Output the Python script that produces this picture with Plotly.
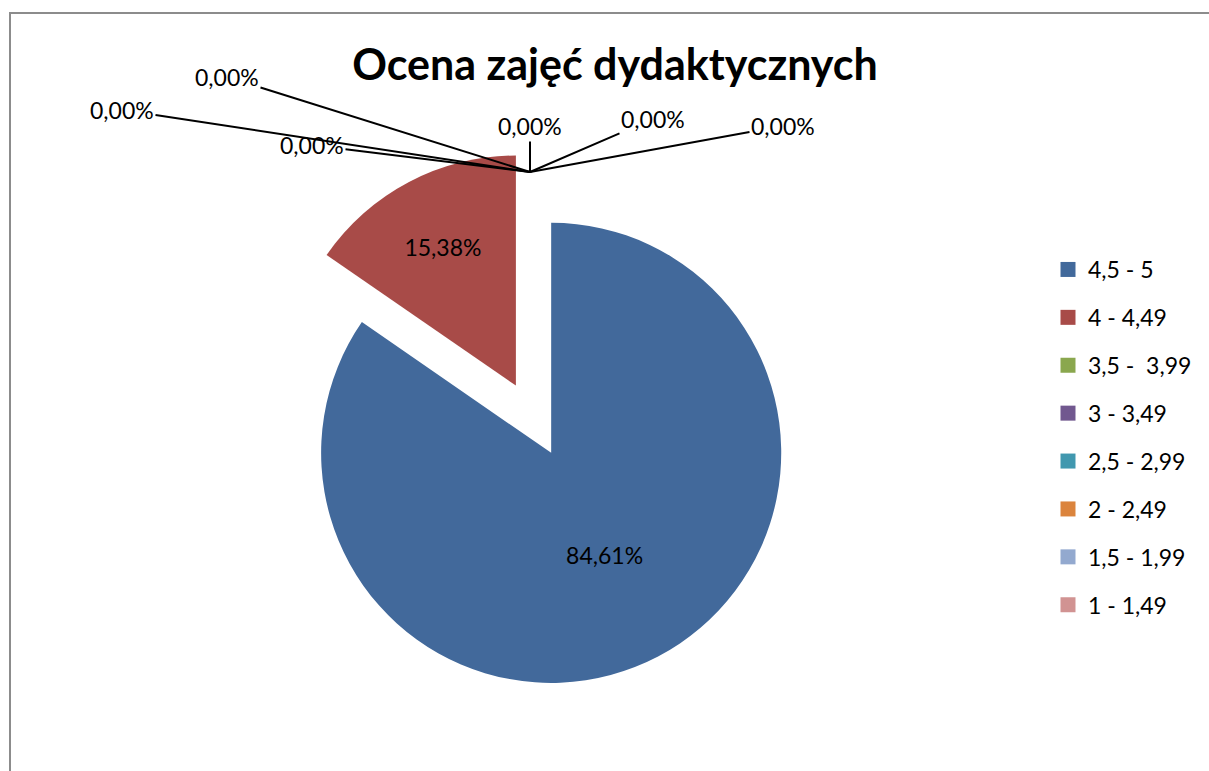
import plotly.graph_objects as go

# ---- data ----
categories = ["4,5 - 5", "4 - 4,49", "3,5 -  3,99", "3 - 3,49",
              "2,5 - 2,99", "2 - 2,49", "1,5 - 1,99", "1 - 1,49"]
values = [84.61, 15.38, 0.0, 0.0, 0.0, 0.0, 0.0, 0.0]
colors = ["#42699B", "#A84B48", "#8AA74E", "#71588F",
          "#4198AF", "#DB843D", "#93A9CF", "#D19392"]
pulls = [0.1, 0.23, 0.18, 0.18, 0.18, 0.18, 0.18, 0.18]
title_text = "Ocena zajęć dydaktycznych"


def fmt(v):
    return f"{v:.2f}%".replace(".", ",")


FONT = "Lato"
W, H = 1209, 771

slice_text = [fmt(v) if v > 0 else "" for v in values]

fig = go.Figure()
fig.add_trace(go.Pie(
    labels=categories, values=values, text=slice_text,
    textinfo="text", textposition="inside",
    insidetextorientation="horizontal",
    sort=False, direction="clockwise", rotation=0,
    pull=pulls, marker=dict(colors=colors, line=dict(width=0)),
    textfont=dict(family=FONT, size=23, color="#000000"),
    domain=dict(x=[0.2130, 0.6811], y=[0.0720, 0.8062]),
    showlegend=False, hoverinfo="skip",
))

# legend entries (one per category)
for c, col in zip(categories, colors):
    fig.add_trace(go.Scatter(
        x=[None], y=[None], mode="markers", name=c, legendgroup=c,
        marker=dict(symbol="square", size=15, color=col),
        showlegend=True, hoverinfo="skip",
    ))

# labels of the zero-valued slices with leader lines
anchor_x, anchor_y = 530 / W, 1 - 172 / H
offsets = [(-303, -95), (-408, -62), (-218, -27), (0, -46), (123, -53), (253, -46)]
zero_vals = [v for v in values if v == 0]
annotations = []
for v, (ax, ay) in zip(zero_vals, offsets):
    annotations.append(dict(
        x=anchor_x, y=anchor_y, xref="paper", yref="paper",
        text=fmt(v), showarrow=True, arrowhead=0, arrowwidth=2,
        arrowcolor="#000000", ax=ax, ay=ay, standoff=0,
        font=dict(family=FONT, size=23, color="#000000"),
    ))

fig.update_layout(
    width=W, height=H,
    margin=dict(l=0, r=0, t=0, b=0),
    paper_bgcolor="white", plot_bgcolor="white",
    title=dict(text=title_text, x=615 / W, xanchor="center",
               y=1 - 65 / H, yanchor="middle", yref="container",
               font=dict(family=FONT, size=43, color="#000000", weight="bold")),
    xaxis=dict(visible=False), yaxis=dict(visible=False),
    legend=dict(x=1048 / W, xanchor="left", y=1 - 248 / H, yanchor="top",
                font=dict(family=FONT, size=23, color="#000000"),
                tracegroupgap=15, itemwidth=30, bgcolor="rgba(0,0,0,0)"),
    annotations=annotations,
    shapes=[dict(type="rect", xref="paper", yref="paper",
                 x0=10 / W, y0=1 - 13 / H, x1=1.05, y1=-0.05,
                 line=dict(color="#8C8C8C", width=2), fillcolor="rgba(0,0,0,0)",
                 layer="below")],
)

fig.write_html("out.html", config={"displayModeBar": False},
               post_script="document.body.style.margin='0';")
